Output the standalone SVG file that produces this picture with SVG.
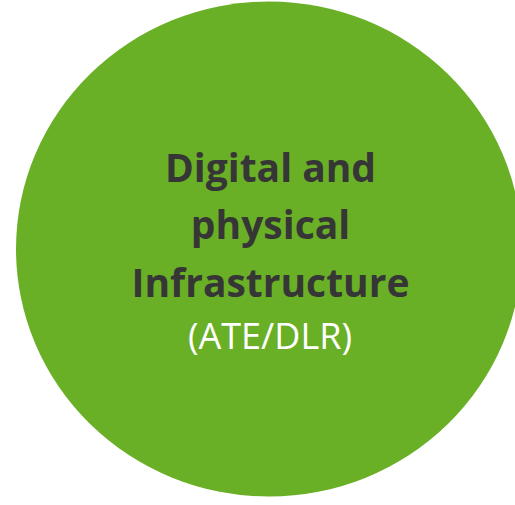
<svg xmlns="http://www.w3.org/2000/svg" width="515" height="505" viewBox="0 0 515 505">
<style>
.bg{fill:#ffffff}
.blob{fill:#6AB026}
.t{font-family:"Open Sans","Noto Sans","Liberation Sans",sans-serif;font-weight:700;font-size:39px;fill:#363636;text-anchor:middle}
.s{font-family:"Open Sans","Noto Sans","Liberation Sans",sans-serif;font-weight:400;font-size:36px;fill:#ffffff;text-anchor:middle}
</style>
<rect class="bg" x="0" y="0" width="515" height="505"/>
<g id="node-infrastructure">
<ellipse class="blob" cx="269" cy="249" rx="253" ry="247.5"/>
<text class="t" x="270.5" y="182">Digital and</text>
<text class="t" x="270.5" y="239">physical</text>
<text class="t" x="270.5" y="297">Infrastructure</text>
<text class="s" x="270" y="349">(ATE/DLR)</text>
</g>
<g id="connectors"></g>
</svg>
